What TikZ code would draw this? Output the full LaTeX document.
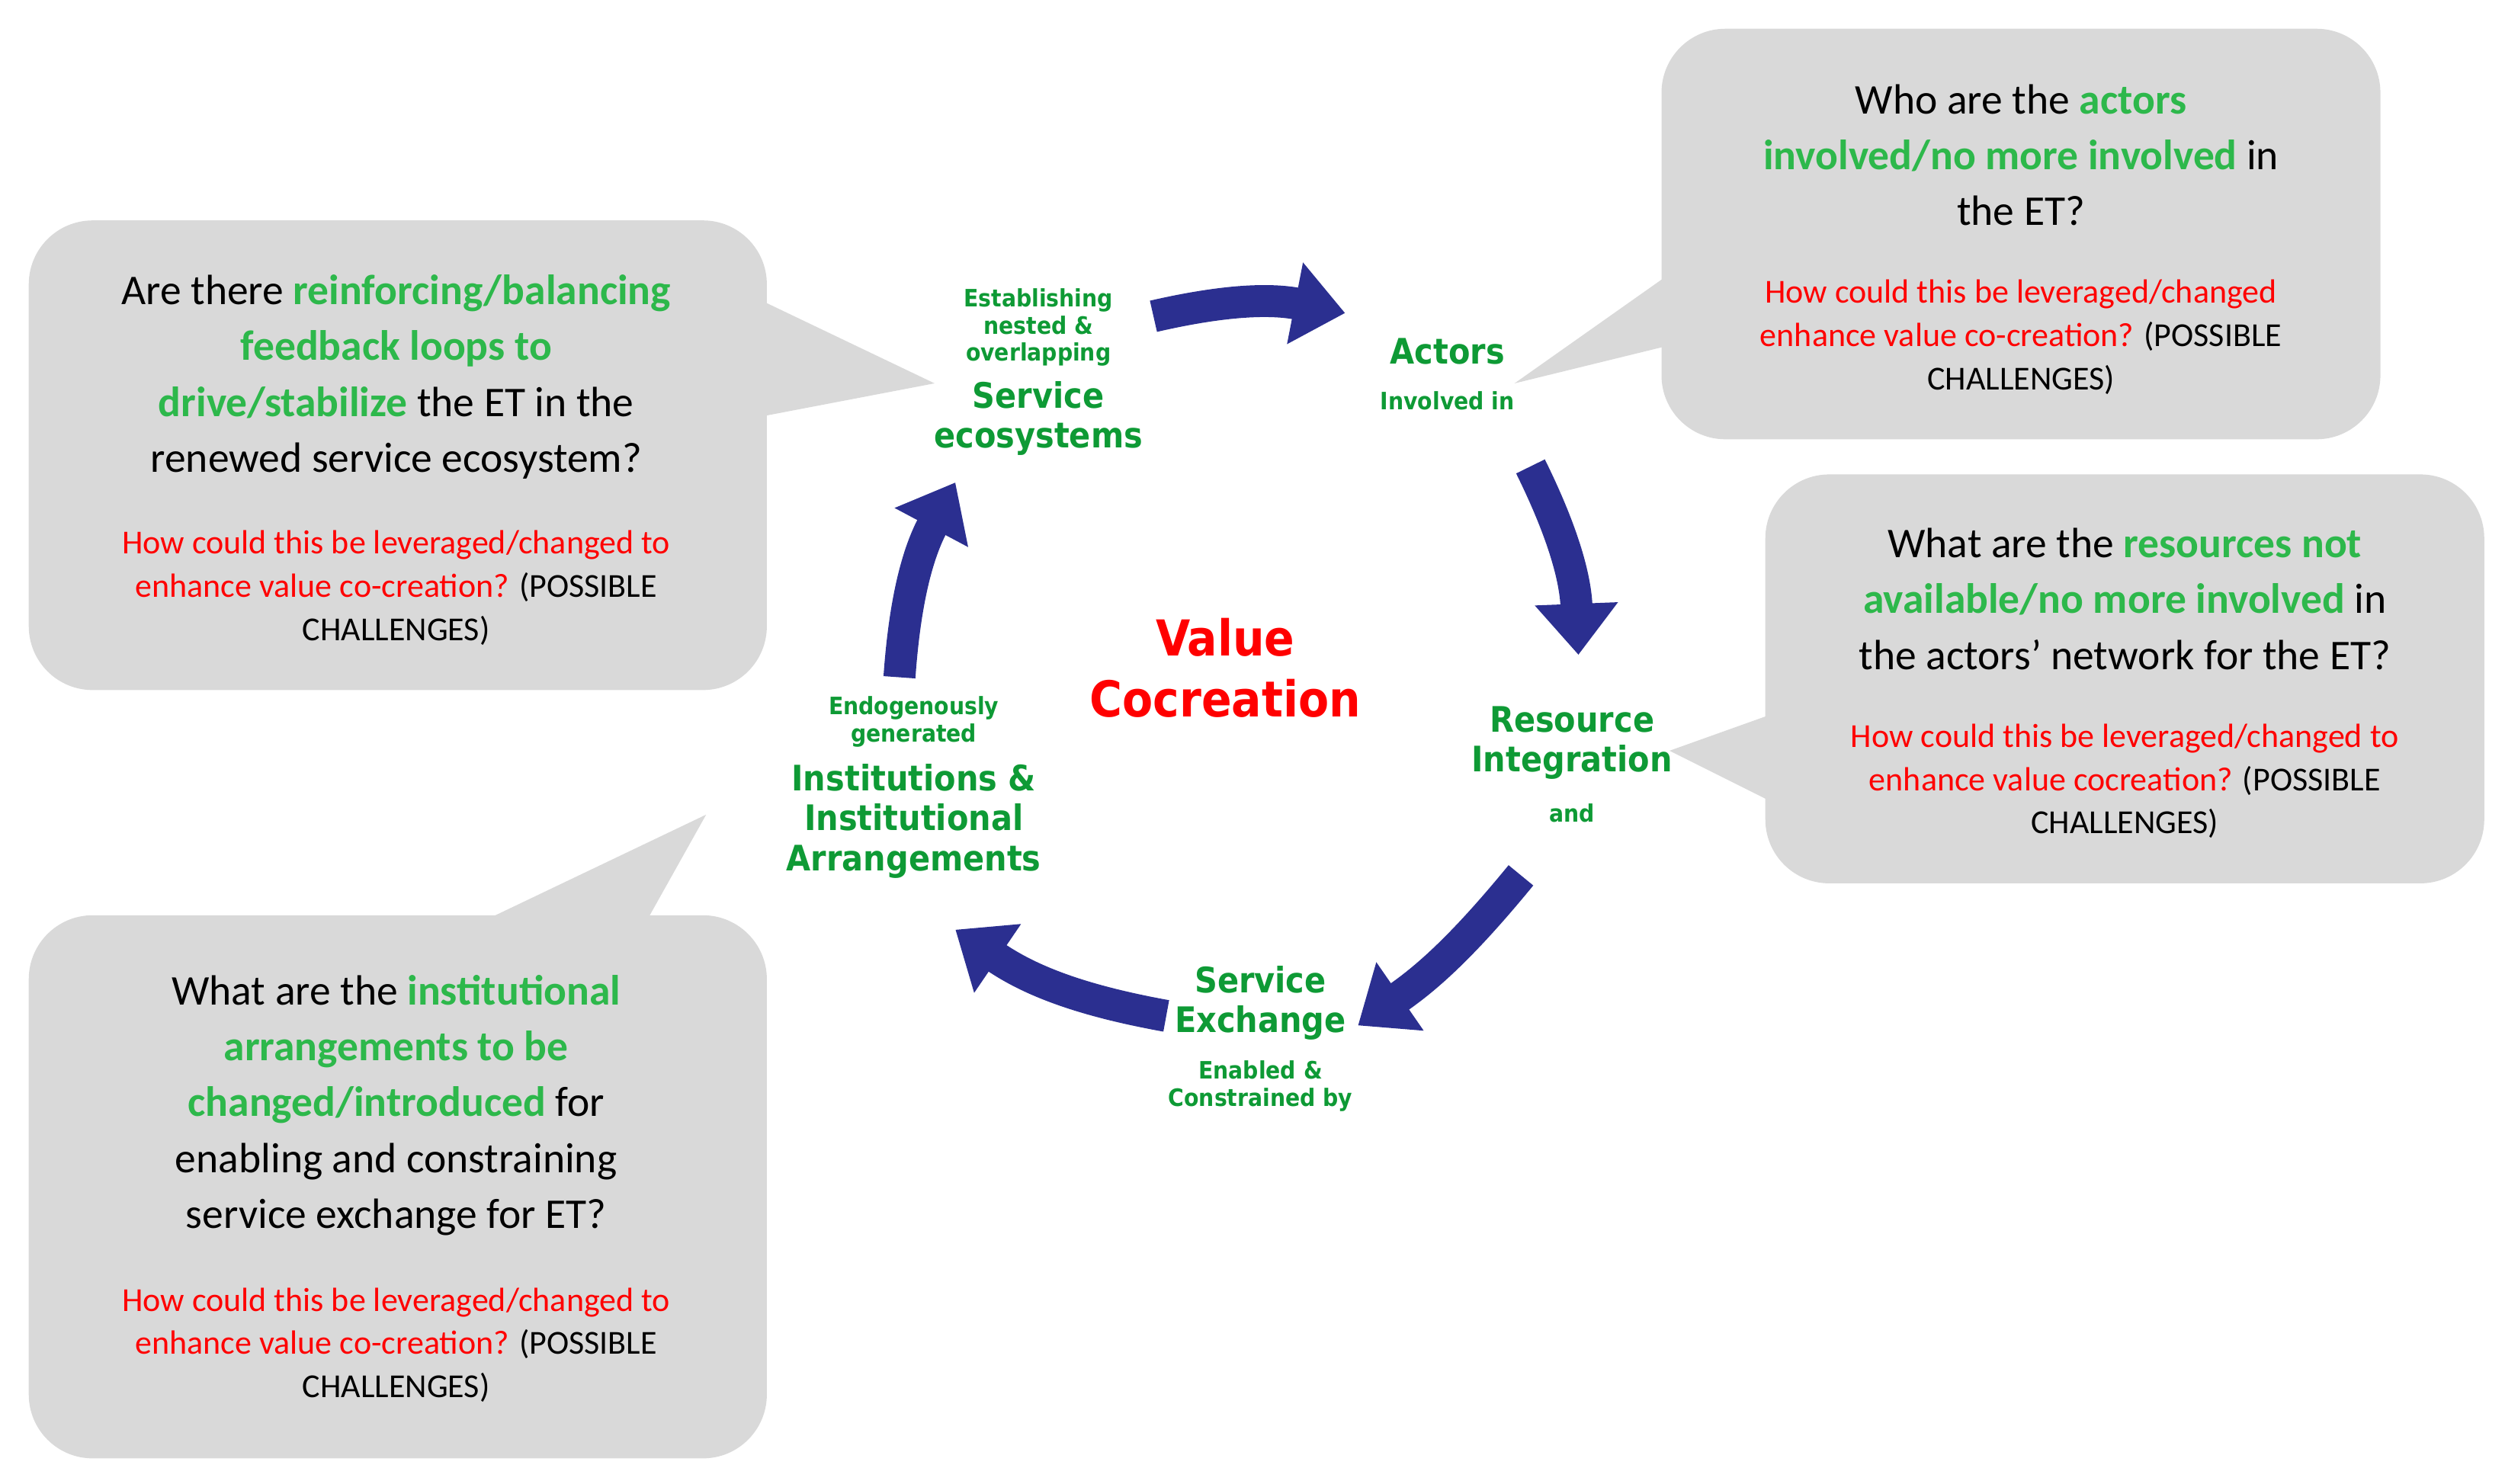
\documentclass[tikz,border=0pt]{standalone}
\usepackage{fontspec}
\setmainfont{Carlito}
\newfontfamily\lblfont{DejaVu Sans Condensed}
\usetikzlibrary{arrows.meta}
\definecolor{bub}{HTML}{D9D9D9}
\definecolor{qgreen}{HTML}{2DB84B}
\definecolor{lgreen}{HTML}{0E9A35}
\definecolor{navy}{HTML}{2B2F90}
\begin{document}
\begin{tikzpicture}[x=1pt,y=-1pt,
  bubble/.style={fill=bub,draw=none,rounded corners=40pt},
  qtext/.style={align=center,font=\fontsize{26.5}{35}\selectfont},
  rtext/.style={align=center,font=\fontsize{21}{27}\selectfont},
  lbl/.style={align=center,text=lgreen,font=\lblfont\bfseries\fontsize{22}{25}\selectfont},
  slbl/.style={align=center,text=lgreen,font=\lblfont\bfseries\fontsize{15}{17}\selectfont},
  cyc/.style={draw=navy,line width=20pt,-{Triangle[width=50pt,length=32pt]}}]
\useasboundingbox (0,0) rectangle (1568,929);
% bubbles with pointers
\fill[bub] (470,185) -- (585,240) -- (470,262) -- cycle;
\fill[bubble] (18,138) rectangle (480,432);
\fill[bub] (1050,168) -- (948,240) -- (1050,215) -- cycle;
\fill[bubble] (1040,18) rectangle (1490,275);
\fill[bub] (1115,445) -- (1045,470) -- (1115,505) -- cycle;
\fill[bubble] (1105,297) rectangle (1555,553);
\fill[bub] (285,585) -- (442,510) -- (400,585) -- cycle;
\fill[bubble] (18,573) rectangle (480,913);
% bubble texts
\node[qtext] (q1) at (248,236) {Are there \textcolor{qgreen}{\textbf{reinforcing/balancing}}\\\textcolor{qgreen}{\textbf{feedback loops to}}\\\textcolor{qgreen}{\textbf{drive/stabilize}} the ET in the\\renewed service ecosystem?};
\node[rtext] (r1) at (248,368) {\textcolor{red}{How could this be leveraged/changed to}\\\textcolor{red}{enhance value co-creation?} (POSSIBLE\\CHALLENGES)};
\node[qtext] (q2) at (1265,97) {Who are the \textcolor{qgreen}{\textbf{actors}}\\\textcolor{qgreen}{\textbf{involved/no more involved}} in\\the ET?};
\node[rtext] (r2) at (1265,211) {\textcolor{red}{How could this be leveraged/changed}\\\textcolor{red}{enhance value co-creation?} (POSSIBLE\\CHALLENGES)};
\node[qtext] (q3) at (1330,375) {What are the \textcolor{qgreen}{\textbf{resources not}}\\\textcolor{qgreen}{\textbf{available/no more involved}} in\\the actors' network for the ET?};
\node[rtext] (r3) at (1330,489) {\textcolor{red}{How could this be leveraged/changed to}\\\textcolor{red}{enhance value cocreation?} (POSSIBLE\\CHALLENGES)};
\node[qtext] (q4) at (248,692) {What are the \textcolor{qgreen}{\textbf{institutional}}\\\textcolor{qgreen}{\textbf{arrangements to be}}\\\textcolor{qgreen}{\textbf{changed/introduced}} for\\enabling and constraining\\service exchange for ET?};
\node[rtext] (r4) at (248,842) {\textcolor{red}{How could this be leveraged/changed to}\\\textcolor{red}{enhance value co-creation?} (POSSIBLE\\CHALLENGES)};
% center
\node[align=center,text=red,font=\lblfont\bfseries\fontsize{31}{38}\selectfont] (vc) at (767,418) {Value\\Cocreation};
% labels
\node[slbl] (se0) at (650,205) {Establishing\\nested \&\\overlapping};
\node[lbl] (se) at (650,262) {Service\\ecosystems};
\node[lbl] (ac) at (906,220) {Actors};
\node[slbl] (ac1) at (906,251) {Involved in};
\node[lbl] (ri) at (984,465) {Resource\\Integration};
\node[slbl] (ri1) at (984,509) {and};
\node[lbl] (sx) at (789,628) {Service\\Exchange};
\node[slbl] (sx1) at (789,680) {Enabled \&\\Constrained by};
\node[slbl] (ia0) at (572,452) {Endogenously\\generated};
\node[lbl] (ia) at (572,514) {Institutions \&\\Institutional\\Arrangements};
% cycle arrows
\coordinate (a1s) at (722,198); \coordinate (a1e) at (842,196);
\coordinate (a2s) at (958,292); \coordinate (a2e) at (988,410);
\coordinate (a3s) at (952,548); \coordinate (a3e) at (850,642);
\coordinate (a4s) at (730,636); \coordinate (a4e) at (598,582);
\coordinate (a5s) at (563,424); \coordinate (a5e) at (598,302);
\draw[cyc] (a1s) to[bend left=12] (a1e);
\draw[cyc] (a2s) to[bend left=12] (a2e);
\draw[cyc] (a3s) to[bend left=8] (a3e);
\draw[cyc] (a4s) to[bend left=12] (a4e);
\draw[cyc] (a5s) to[bend left=12] (a5e);
\end{tikzpicture}
\end{document}
